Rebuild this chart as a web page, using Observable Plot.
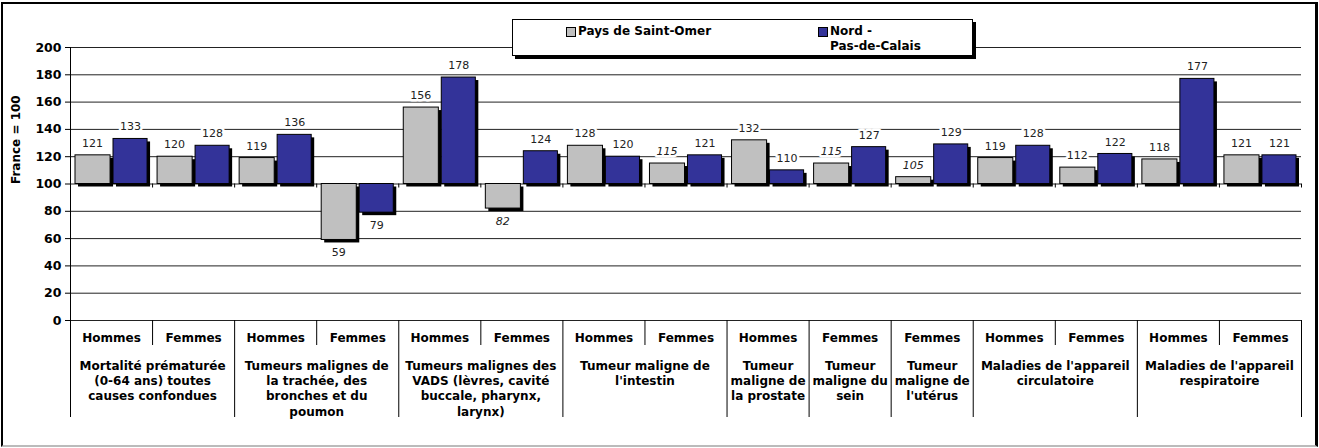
<!DOCTYPE html>
<html><head><meta charset="utf-8">
<script src="https://cdn.jsdelivr.net/npm/d3@7"></script>
<script src="https://cdn.jsdelivr.net/npm/@observablehq/plot@0.6"></script>
<style>
html,body{margin:0;padding:0;background:#fff;}
#wrap{position:relative;width:1319px;height:448px;overflow:hidden;font-family:"DejaVu Sans",Verdana,sans-serif;background:#fff;}
#chart svg{display:block;}
#legend{position:absolute;left:512px;top:19px;width:461px;height:37px;background:#fff;border:1px solid #000;box-shadow:3px 3px 0 #000;box-sizing:border-box;}
#legend .sw{position:absolute;width:8px;height:8px;border:1px solid #000;}
#legend .lt{position:absolute;font-weight:bold;font-size:12px;line-height:14px;color:#000;white-space:nowrap;}
#border{position:absolute;left:1px;top:2px;width:1317px;height:445px;box-sizing:border-box;border-left:2px solid #000;border-top:2px solid #000;border-right:3px solid #000;border-bottom:2px solid #bbb;pointer-events:none;}
</style></head><body>
<div id="wrap">
  <div id="chart"></div>
  <div id="legend"></div>
  <div id="border"></div>
</div>
<script>
// ---- data ----
const seriesNames = ["Pays de Saint-Omer", "Nord - Pas-de-Calais"];
const seriesLegendLabels = ["Pays de Saint-Omer", "Nord -\nPas-de-Calais"];
const seriesColors = ["#C0C0C0", "#333399"];
const sexes = ["Hommes","Femmes","Hommes","Femmes","Hommes","Femmes","Hommes","Femmes","Hommes","Femmes","Femmes","Hommes","Femmes","Hommes","Femmes"];
const groupOfSlot = [0,0,1,1,2,2,3,3,4,5,6,7,7,8,8];
const groupNames = [
  "Mortalité prématurée\n(0-64 ans) toutes\ncauses confondues",
  "Tumeurs malignes de\nla trachée, des\nbronches et du\npoumon",
  "Tumeurs malignes des\nVADS (lèvres, cavité\nbuccale, pharynx,\nlarynx)",
  "Tumeur maligne de\nl'intestin",
  "Tumeur\nmaligne de\nla prostate",
  "Tumeur\nmaligne du\nsein",
  "Tumeur\nmaligne de\nl'utérus",
  "Maladies de l'appareil\ncirculatoire",
  "Maladies de l'appareil\nrespiratoire"
];
const saintOmer = [121,120,119,59,156,82,128,115,132,115,105,119,112,118,121];
const saintOmerItalic = [false,false,false,false,false,true,false,true,false,true,true,false,false,false,false];
const nordPdc = [133,128,136,79,178,124,120,121,110,127,129,128,122,177,121];
const baseline = 100;
const yTicks = [0,20,40,60,80,100,120,140,160,180,200];
const yLabel = "France = 100";

// ---- derived tables ----
const nSlots = sexes.length;
const slots = d3.range(nSlots);
const bars = slots.flatMap(i => [
  {slot: i, s: 0, value: saintOmer[i], italic: saintOmerItalic[i]},
  {slot: i, s: 1, value: nordPdc[i], italic: false}
]);
const groups = groupNames.map((name, g) => {
  const idx = slots.filter(i => groupOfSlot[i] === g);
  return {name, start: d3.min(idx), end: d3.max(idx) + 1};
});
const boundaries = d3.range(nSlots + 1);
const longB = boundaries.filter(b => b === 0 || b === nSlots || groupOfSlot[b] !== groupOfSlot[b - 1]);
const shortB = boundaries.filter(b => !longB.includes(b));

const barInset = [{insetLeft: 5, insetRight: 42}, {insetLeft: 43, insetRight: 5}];
const labelDx = [-19, 19];

const marks = [
  Plot.ruleY(yTicks, {stroke: "#222", strokeWidth: 1}),
  Plot.ruleX([0], {stroke: "#000"}),
  Plot.axisY({ticks: yTicks, tickSize: 5, tickPadding: 4, fontSize: 12.5, fontWeight: "bold", label: null, stroke: "#000", fill: "#000"}),
  Plot.ruleX(boundaries, {x: d => d, y1: baseline, y2: baseline, insetBottom: -4, stroke: "#000"}),
  Plot.ruleX(longB, {x: d => d, y1: 0, y2: 0, insetBottom: -97, stroke: "#000"}),
  Plot.ruleX(shortB, {x: d => d, y1: 0, y2: 0, insetBottom: -25, stroke: "#000"})
];
for (const s of [0, 1]) {
  const data = bars.filter(d => d.s === s);
  marks.push(Plot.rect(data, {x1: "slot", x2: d => d.slot + 1, y1: baseline, y2: "value", fill: "#000", dx: 3, dy: 3, ...barInset[s]}));
  marks.push(Plot.rect(data, {x1: "slot", x2: d => d.slot + 1, y1: baseline, y2: "value", fill: seriesColors[s], stroke: "#000", strokeWidth: 1, ...barInset[s]}));
}
for (const s of [0, 1]) for (const up of [true, false]) for (const it of [true, false]) {
  marks.push(Plot.text(bars, {
    filter: d => d.s === s && (d.value >= baseline) === up && d.italic === it,
    x: d => d.slot + 0.5, y: "value", text: d => String(d.value),
    dx: labelDx[s], dy: up ? -12 : 13,
    fontSize: 11, fontStyle: it ? "italic" : "normal",
    fill: "#222", stroke: "#fff", strokeWidth: 5, paintOrder: "stroke"
  }));
}
marks.push(Plot.text(slots, {x: i => i + 0.5, y: 0, text: i => sexes[i], dy: 18, fontSize: 12, fontWeight: "bold", fill: "#000"}));
marks.push(Plot.text(groups, {x: d => (d.start + d.end) / 2, y: 0, text: "name", dy: 38, lineAnchor: "top", lineHeight: 1.29, fontSize: 12, fontWeight: "bold", fill: "#000"}));
marks.push(Plot.text([yLabel], {frameAnchor: "left", dx: -54, rotate: -90, fontSize: 12, fontWeight: "bold", fill: "#000"}));

const chart = Plot.plot({
  width: 1319, height: 448,
  marginLeft: 70, marginRight: 18, marginTop: 47, marginBottom: 128,
  x: {type: "linear", domain: [0, nSlots], axis: null},
  y: {domain: [0, 200], axis: null},
  style: {fontFamily: "'DejaVu Sans', Verdana, sans-serif", background: "#fff", overflow: "visible"},
  marks
});
document.getElementById("chart").appendChild(chart);

// legend
const legend = document.getElementById("legend");
const legendPos = [{sw: 53, tx: 65}, {sw: 305, tx: 317}];
seriesNames.forEach((name, s) => {
  const sw = document.createElement("div");
  sw.className = "sw";
  sw.style.left = legendPos[s].sw + "px";
  sw.style.top = "7px";
  sw.style.background = seriesColors[s];
  legend.appendChild(sw);
  seriesLegendLabels[s].split("\n").forEach((line, k) => {
    const t = document.createElement("div");
    t.className = "lt";
    t.textContent = line;
    t.style.left = legendPos[s].tx + "px";
    t.style.top = (4 + k * 14.5) + "px";
    legend.appendChild(t);
  });
});
</script>
</body></html>
